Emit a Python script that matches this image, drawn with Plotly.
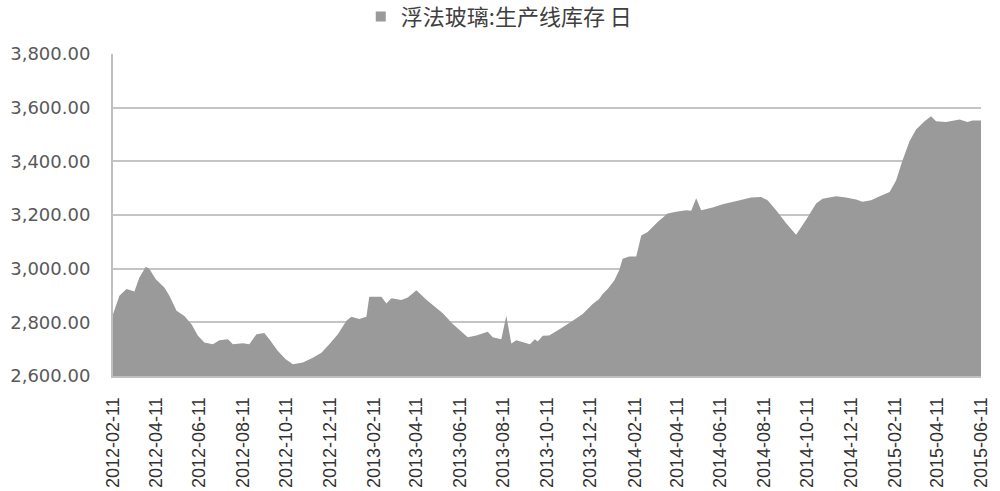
import plotly.graph_objects as go

# 浮法玻璃 生产线库存（日度），读自原图
dates = [
    "2012-02-11", "2012-02-20", "2012-03-01", "2012-03-12", "2012-03-19", "2012-03-28",
    "2012-04-02", "2012-04-11", "2012-04-23", "2012-04-30", "2012-05-10", "2012-05-21",
    "2012-05-31", "2012-06-09", "2012-06-18", "2012-06-30", "2012-07-09", "2012-07-21",
    "2012-07-28", "2012-08-11", "2012-08-20", "2012-08-30", "2012-09-10", "2012-09-17",
    "2012-09-29", "2012-10-10", "2012-10-20", "2012-11-03", "2012-11-17", "2012-11-29",
    "2012-12-10", "2012-12-22", "2013-01-03", "2013-01-10", "2013-01-21", "2013-01-31",
    "2013-02-04", "2013-02-21", "2013-02-28", "2013-03-07", "2013-03-21", "2013-03-30",
    "2013-04-11", "2013-04-25", "2013-05-18", "2013-06-01", "2013-06-22", "2013-07-04",
    "2013-07-20", "2013-07-27", "2013-08-08", "2013-08-15", "2013-08-22", "2013-08-29",
    "2013-09-17", "2013-09-24", "2013-09-28", "2013-10-05", "2013-10-14", "2013-10-28",
    "2013-11-16", "2013-11-30", "2013-12-14", "2013-12-23", "2013-12-28", "2014-01-04",
    "2014-01-13", "2014-01-20", "2014-01-25", "2014-02-03", "2014-02-13", "2014-02-20",
    "2014-03-01", "2014-03-15", "2014-03-29", "2014-04-10", "2014-04-24", "2014-05-01",
    "2014-05-08", "2014-05-15", "2014-05-31", "2014-06-14", "2014-07-08", "2014-07-24",
    "2014-08-07", "2014-08-16", "2014-08-28", "2014-09-11", "2014-09-25", "2014-10-09",
    "2014-10-23", "2014-11-01", "2014-11-20", "2014-12-04", "2014-12-18", "2014-12-27",
    "2015-01-08", "2015-01-20", "2015-02-03", "2015-02-12", "2015-02-21", "2015-03-03",
    "2015-03-12", "2015-03-24", "2015-04-02", "2015-04-09", "2015-04-23", "2015-05-12",
    "2015-05-23", "2015-05-30", "2015-06-11",
]
kucun = [
    2830, 2899, 2924, 2915, 2967, 3007,
    2999, 2961, 2930, 2899, 2843, 2824,
    2793, 2750, 2725, 2718, 2733, 2737,
    2718, 2722, 2718, 2756, 2760, 2737,
    2693, 2662, 2644, 2650, 2668, 2687,
    2718, 2756, 2806, 2821, 2812, 2821,
    2895, 2895, 2870, 2890, 2883, 2893,
    2920, 2884, 2834, 2794, 2744, 2751,
    2765, 2744, 2737, 2825, 2721, 2733,
    2718, 2737, 2729, 2750, 2751, 2773,
    2806, 2831, 2868, 2887, 2906, 2924,
    2955, 2993, 3037, 3045, 3045, 3124,
    3137, 3174, 3206, 3212, 3218, 3216,
    3262, 3218, 3228, 3240, 3255, 3265,
    3267, 3255, 3218, 3169, 3126, 3182,
    3243, 3261, 3270, 3265, 3258, 3249,
    3255, 3270, 3286, 3329, 3403, 3476,
    3519, 3549, 3568, 3549, 3547, 3556,
    3547, 3552, 3552,
]

# x轴刻度（每两个月）
tick_dates = [
    "2012-02-11", "2012-04-11", "2012-06-11", "2012-08-11", "2012-10-11", "2012-12-11",
    "2013-02-11", "2013-04-11", "2013-06-11", "2013-08-11", "2013-10-11", "2013-12-11",
    "2014-02-11", "2014-04-11", "2014-06-11", "2014-08-11", "2014-10-11", "2014-12-11",
    "2015-02-11", "2015-04-11", "2015-06-11",
]
y_ticks = [2600, 2800, 3000, 3200, 3400, 3600, 3800]

series_name = "浮法玻璃:生产线库存 日"
fill_grey = "#9a9a9a"

fig = go.Figure()

# 面积图
fig.add_trace(go.Scatter(
    x=dates, y=kucun,
    mode="none",
    fill="tozeroy",
    fillcolor=fill_grey,
    showlegend=False,
    hoverinfo="x+y",
))

# 图例用的小方块
fig.add_trace(go.Scatter(
    x=[None], y=[None],
    mode="markers",
    marker=dict(symbol="square", size=10, color=fill_grey),
    name=series_name,
))

fig.update_layout(
    width=1000, height=491,
    margin=dict(l=113, r=19, t=54, b=115),
    paper_bgcolor="white",
    plot_bgcolor="white",
    font=dict(family="Noto Sans CJK SC", color="#404040"),
    legend=dict(
        orientation="h",
        x=0.445, xanchor="center",
        y=0.966, yanchor="middle",
        yref="container",
        font=dict(size=22, color="#404040", family="Noto Sans CJK SC"),
        itemwidth=30,
    ),
)

fig.update_xaxes(
    type="date",
    range=["2012-02-11", "2015-06-11"],
    tickvals=tick_dates,
    ticktext=tick_dates,
    tickangle=-90,
    tickfont=dict(family="Liberation Sans Narrow, Liberation Sans", size=18, color="#333333"),
    ticklabelstandoff=12,
    showgrid=False,
    showline=True, linecolor="#c0c0c0", linewidth=2,
    ticks="",
    automargin=False,
)
fig.update_yaxes(
    range=[2600, 3800],
    tickvals=y_ticks,
    tickformat=",.2f",
    tickfont=dict(family="DejaVu Sans", size=18, color="#595959"),
    ticklabelstandoff=17,
    showgrid=True, gridcolor="#c4c4c4", gridwidth=2,
    showline=True, linecolor="#c0c0c0", linewidth=2,
    zeroline=False,
    ticks="",
    automargin=False,
)

# 去掉页面默认边距，使图形贴齐窗口左上角；隐藏工具栏
fig.write_html(
    "out.html",
    config={"displayModeBar": False},
    post_script="document.body.style.margin='0';",
)
